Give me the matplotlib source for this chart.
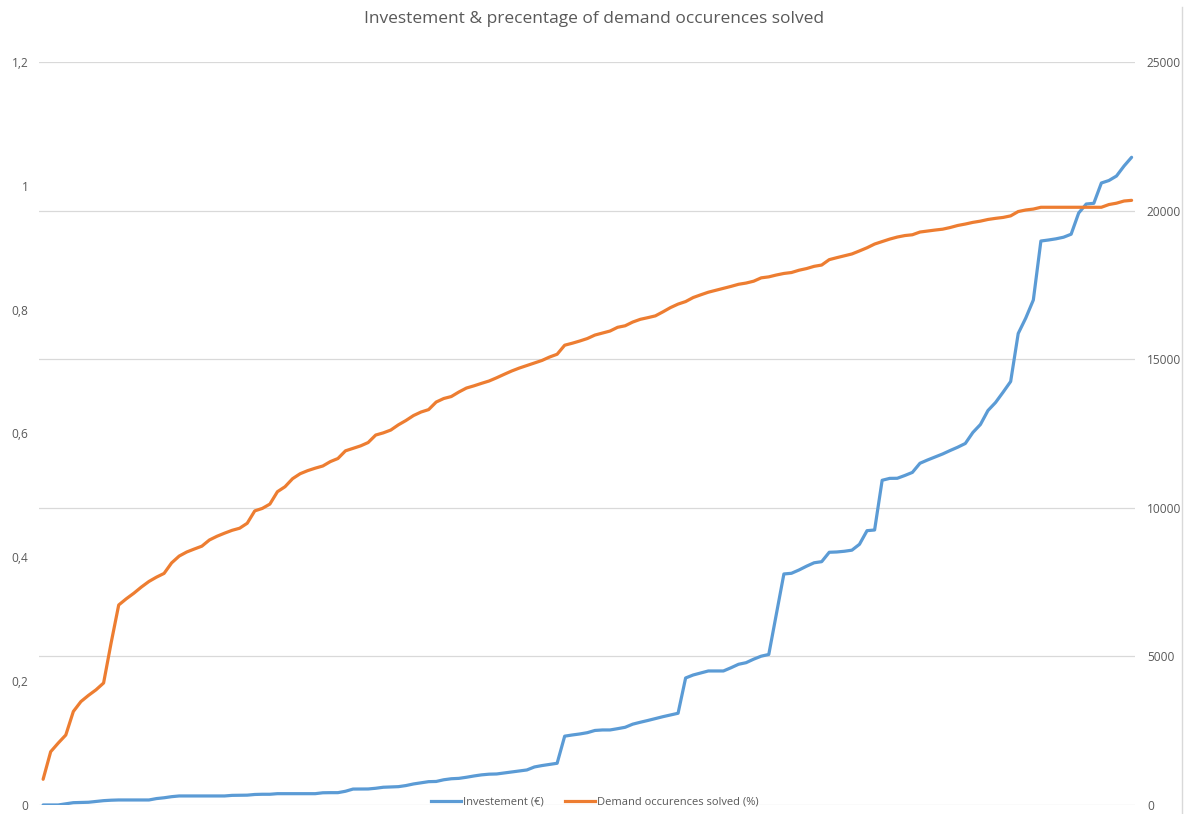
import matplotlib
matplotlib.use("Agg")
import matplotlib.pyplot as plt
from matplotlib.lines import Line2D
from matplotlib.ticker import FixedLocator, FixedFormatter

# Cumulative investment (€), one value per selected item
investment = [
    0, 0, 0, 40, 77, 84, 91, 118, 145, 160,
    168, 168, 168, 168, 168, 215, 242, 279, 303, 303,
    303, 303, 303, 303, 303, 323, 326, 330, 353, 360,
    360, 380, 380, 380, 380, 380, 380, 410, 414, 414,
    461, 535, 538, 538, 562, 596, 606, 616, 653, 707,
    747, 784, 791, 848, 882, 895, 932, 976, 1013, 1036,
    1043, 1077, 1110, 1144, 1178, 1279, 1326, 1363, 1403, 2315,
    2355, 2389, 2433, 2507, 2524, 2524, 2567, 2614, 2719, 2783,
    2843, 2907, 2971, 3028, 3086, 4273, 4374, 4441, 4509, 4509,
    4509, 4617, 4734, 4788, 4906, 5007, 5064, 6420, 7773, 7796,
    7907, 8035, 8150, 8187, 8503, 8513, 8537, 8574, 8772, 9230,
    9253, 10926, 10990, 10993, 11087, 11191, 11498, 11608, 11710, 11811,
    11928, 12039, 12164, 12534, 12803, 13274, 13543, 13890, 14250, 15865,
    16386, 16992, 18977, 19011, 19051, 19105, 19206, 19920, 20222, 20246,
    20929, 21013, 21164, 21501, 21794,
]

# Share of demand occurrences solved, same items
demand_solved = [
    0.0415, 0.086, 0.100, 0.113, 0.151, 0.167, 0.177, 0.186, 0.197, 0.262,
    0.323, 0.333, 0.342, 0.352, 0.361, 0.368, 0.374, 0.391, 0.402, 0.4086,
    0.4134, 0.418, 0.428, 0.434, 0.439, 0.4436, 0.447, 0.455, 0.475, 0.479,
    0.486, 0.506, 0.514, 0.527, 0.535, 0.540, 0.544, 0.5475, 0.5546, 0.5596,
    0.572, 0.576, 0.580, 0.5854, 0.5975, 0.601, 0.6056, 0.614, 0.621, 0.629,
    0.6347, 0.6386, 0.6508, 0.6565, 0.6597, 0.667, 0.6734, 0.677, 0.681, 0.6848,
    0.690, 0.6956, 0.701, 0.7057, 0.7098, 0.7138, 0.718, 0.7235, 0.728, 0.7426,
    0.7458, 0.7494, 0.7534, 0.759, 0.7623, 0.7655, 0.7715, 0.774, 0.780, 0.7844,
    0.7871, 0.790, 0.7965, 0.8034, 0.809, 0.8131, 0.8196, 0.824, 0.8282, 0.8313,
    0.8343, 0.8376, 0.841, 0.843, 0.846, 0.8514, 0.853, 0.856, 0.8585, 0.860,
    0.8637, 0.8664, 0.870, 0.8721, 0.8808, 0.884, 0.887, 0.890, 0.8949, 0.900,
    0.906, 0.910, 0.914, 0.9173, 0.9197, 0.921, 0.9254, 0.927, 0.9286, 0.930,
    0.9327, 0.936, 0.9383, 0.941, 0.943, 0.9457, 0.9475, 0.949, 0.9515, 0.9585,
    0.961, 0.9625, 0.9654, 0.9654, 0.9654, 0.9654, 0.9654, 0.9654, 0.9654, 0.9654,
    0.9654, 0.9698, 0.972, 0.9755, 0.9766,
]

left_ticks = [0, 0.2, 0.4, 0.6, 0.8, 1.0, 1.2]
left_labels = ["0", "0,2", "0,4", "0,6", "0,8", "1", "1,2"]
right_ticks = [0, 5000, 10000, 15000, 20000, 25000]
right_labels = ["0", "5000", "10000", "15000", "20000", "25000"]

title = "Investement & precentage of demand occurences solved"
label_inv = "Investement (€)"
label_dem = "Demand occurences solved (%)"

BLUE = "#5B9BD5"
ORANGE = "#ED7D31"
GRID = "#D9D9D9"
TEXT = "#595959"

plt.rcParams["font.family"] = ["Open Sans", "DejaVu Sans"]

fig = plt.figure(figsize=(11.92, 8.14), dpi=100)
fig.patch.set_facecolor("white")

# Main axes carries the euro scale (right side) and the gridlines
ax_r = fig.add_axes([0.033, 0.0111, 0.9195, 0.9127])
ax_l = ax_r.twinx()

x = list(range(len(investment)))

ax_r.plot(x, investment, color=BLUE, lw=2.3, solid_joinstyle="round",
          solid_capstyle="round", label=label_inv)
ax_l.plot(x, demand_solved, color=ORANGE, lw=2.3, solid_joinstyle="round",
          solid_capstyle="round", label=label_dem)

ax_r.set_xlim(-0.5, len(x) - 0.5)
ax_r.set_ylim(0, 25000)
ax_l.set_ylim(0, 1.2)

ax_r.yaxis.tick_right()
ax_r.yaxis.set_major_locator(FixedLocator(right_ticks))
ax_r.yaxis.set_major_formatter(FixedFormatter(right_labels))
ax_l.yaxis.tick_left()
ax_l.yaxis.set_major_locator(FixedLocator(left_ticks))
ax_l.yaxis.set_major_formatter(FixedFormatter(left_labels))

ax_r.grid(axis="y", color=GRID, lw=0.9)
ax_r.set_axisbelow(True)
ax_r.set_xticks([])

for a in (ax_r, ax_l):
    for s in a.spines.values():
        s.set_visible(False)
    a.tick_params(axis="y", length=0, labelsize=8.6, labelcolor=TEXT)
    a.patch.set_alpha(0)

ax_r.tick_params(axis="y", pad=8.3)
ax_l.tick_params(axis="y", pad=7.8)

fig.text(0.498, 1 - 19 / 814, title, ha="center", va="center",
         fontsize=12.5, color=TEXT)

handles = [Line2D([], [], color=BLUE, lw=2.3),
           Line2D([], [], color=ORANGE, lw=2.3)]
fig.legend(handles, [label_inv, label_dem], loc="center",
           bbox_to_anchor=(0.499, 1 - 802 / 814), ncol=2, frameon=False,
           fontsize=8, handlelength=2.7, handletextpad=0.1,
           columnspacing=2.0, labelcolor=TEXT)

# thin border on the right edge of the chart area
fig.add_artist(Line2D([1182 / 1192, 1182 / 1192], [0, 1 - 7 / 814],
                      transform=fig.transFigure, color=GRID, lw=1))

fig.savefig("out.png", dpi=100)
